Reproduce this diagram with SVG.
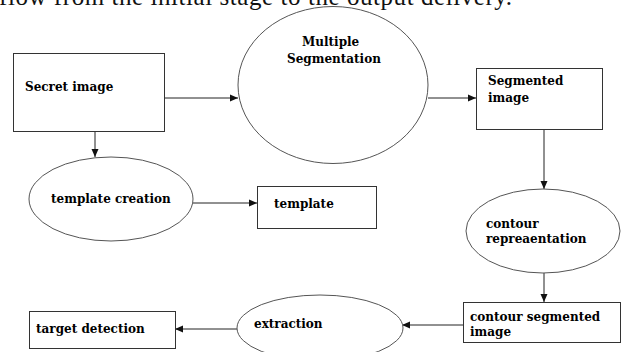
<svg xmlns="http://www.w3.org/2000/svg" width="624" height="352" viewBox="0 0 624 352">
<defs>
<style>
.box{fill:#fff;stroke:#333;stroke-width:1}
.ell{fill:#fff;stroke:#555;stroke-width:1}
.lbl{font-family:"DejaVu Serif","Liberation Serif",serif;font-weight:bold;font-size:12px;fill:#000}
.hdr{font-family:"Liberation Serif","Times New Roman",serif;font-size:25px;fill:#111}
.con line{stroke:#222;stroke-width:1;marker-end:url(#ah)}
</style>
<marker id="ah" viewBox="0 0 8 8" refX="8" refY="4" markerWidth="8" markerHeight="8" markerUnits="userSpaceOnUse" orient="auto">
<path d="M0,0.5 L8,4 L0,7.5 Z" fill="#111"/>
</marker>
</defs>
<rect width="624" height="352" fill="#fff"/>
<text class="hdr" x="-1" y="5" textLength="513" lengthAdjust="spacing">flow from the initial stage to the output delivery.</text>
<g class="con">
<line x1="164" y1="98" x2="238" y2="98"/>
<line x1="95" y1="131" x2="95" y2="157"/>
<line x1="193" y1="203" x2="257" y2="203"/>
<line x1="428" y1="98" x2="476" y2="98"/>
<line x1="544" y1="129" x2="544" y2="189"/>
<line x1="544" y1="273" x2="544" y2="302"/>
<line x1="463" y1="325" x2="402" y2="325"/>
<line x1="237" y1="329" x2="175" y2="329"/>
</g>
<g id="secret">
<rect class="box" x="13.5" y="53.5" width="151" height="78"/>
<text class="lbl" x="25" y="91">Secret image</text>
</g>
<g id="multiple">
<ellipse class="ell" cx="333" cy="85" rx="95" ry="78.5"/>
<text class="lbl" x="302" y="46">Multiple</text>
<text class="lbl" x="287" y="63">Segmentation</text>
</g>
<g id="segmented">
<rect class="box" x="476.5" y="68.5" width="126" height="61"/>
<text class="lbl" x="488" y="85">Segmented</text>
<text class="lbl" x="488" y="102">image</text>
</g>
<g id="template-creation">
<ellipse class="ell" cx="111" cy="199" rx="82" ry="42"/>
<text class="lbl" x="51" y="203">template creation</text>
</g>
<g id="template">
<rect class="box" x="257.5" y="186.5" width="119" height="42"/>
<text class="lbl" x="274" y="208">template</text>
</g>
<g id="contour">
<ellipse class="ell" cx="543" cy="231" rx="77" ry="42"/>
<text class="lbl" x="486" y="228">contour</text>
<text class="lbl" x="486" y="243">repreaentation</text>
</g>
<g id="contour-segmented">
<rect class="box" x="463.5" y="302.5" width="157" height="40"/>
<text class="lbl" x="470" y="321">contour segmented</text>
<text class="lbl" x="470" y="336">image</text>
</g>
<g id="extraction">
<ellipse class="ell" cx="320" cy="328" rx="83" ry="33"/>
<text class="lbl" x="254" y="328">extraction</text>
</g>
<g id="target">
<rect class="box" x="29.5" y="311.5" width="146" height="37"/>
<text class="lbl" x="36" y="333">target detection</text>
</g>
</svg>
